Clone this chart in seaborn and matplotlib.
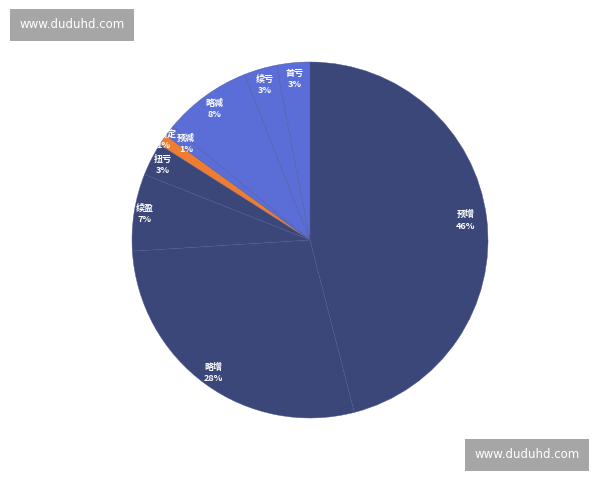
import matplotlib
matplotlib.use("Agg")
import matplotlib.pyplot as plt
import seaborn as sns
import numpy as np

categories = ["预增", "略增", "续盈", "扭亏", "不确定", "预减", "略减", "续亏", "首亏"]
values = [46, 28, 7, 3, 1, 1, 8, 3, 3]
colors = ["#3b4679", "#3b4679", "#3b4679", "#3b4679", "#ee7d32",
          "#5b6dd6", "#5b6dd6", "#5b6dd6", "#5b6dd6"]
label_dist = [0.88, 0.92, 0.94, 0.93, 1.0, 0.88, 0.91, 0.91, 0.91]
watermark = "www.duduhd.com"

sns.set_theme(style="white")
plt.rcParams['font.family'] = ['Noto Sans CJK SC', 'DejaVu Sans']

fig = plt.figure(figsize=(6, 4.8), dpi=100)
fig.patch.set_facecolor("white")
ax = fig.add_axes([132/600, 62/480, 356/600, 356/480])

wedges, _ = ax.pie(values, colors=colors, startangle=90, counterclock=False,
                   wedgeprops=dict(edgecolor="#4a5794", linewidth=0.3))
for w, c, v, d in zip(wedges, categories, values, label_dist):
    ang = np.deg2rad((w.theta1 + w.theta2) / 2)
    ax.text(d * np.cos(ang), d * np.sin(ang), f"{c}\n{v}%", color="white",
            fontsize=6.5, fontweight="bold", ha="center", va="center",
            linespacing=1.3)
ax.set_xlim(-1, 1)
ax.set_ylim(-1, 1)
ax.set_aspect("equal")
ax.axis("off")

box = dict(boxstyle="square,pad=0.8", facecolor="#a6a6a6", edgecolor="none")
fig.text(72/600, 1 - 25/480, watermark, color="white", fontsize=8.5,
         ha="center", va="center", bbox=box, family="DejaVu Sans")
fig.text(527/600, 1 - 455/480, watermark, color="white", fontsize=8.5,
         ha="center", va="center", bbox=box, family="DejaVu Sans")

fig.savefig("out.png", dpi=100)
